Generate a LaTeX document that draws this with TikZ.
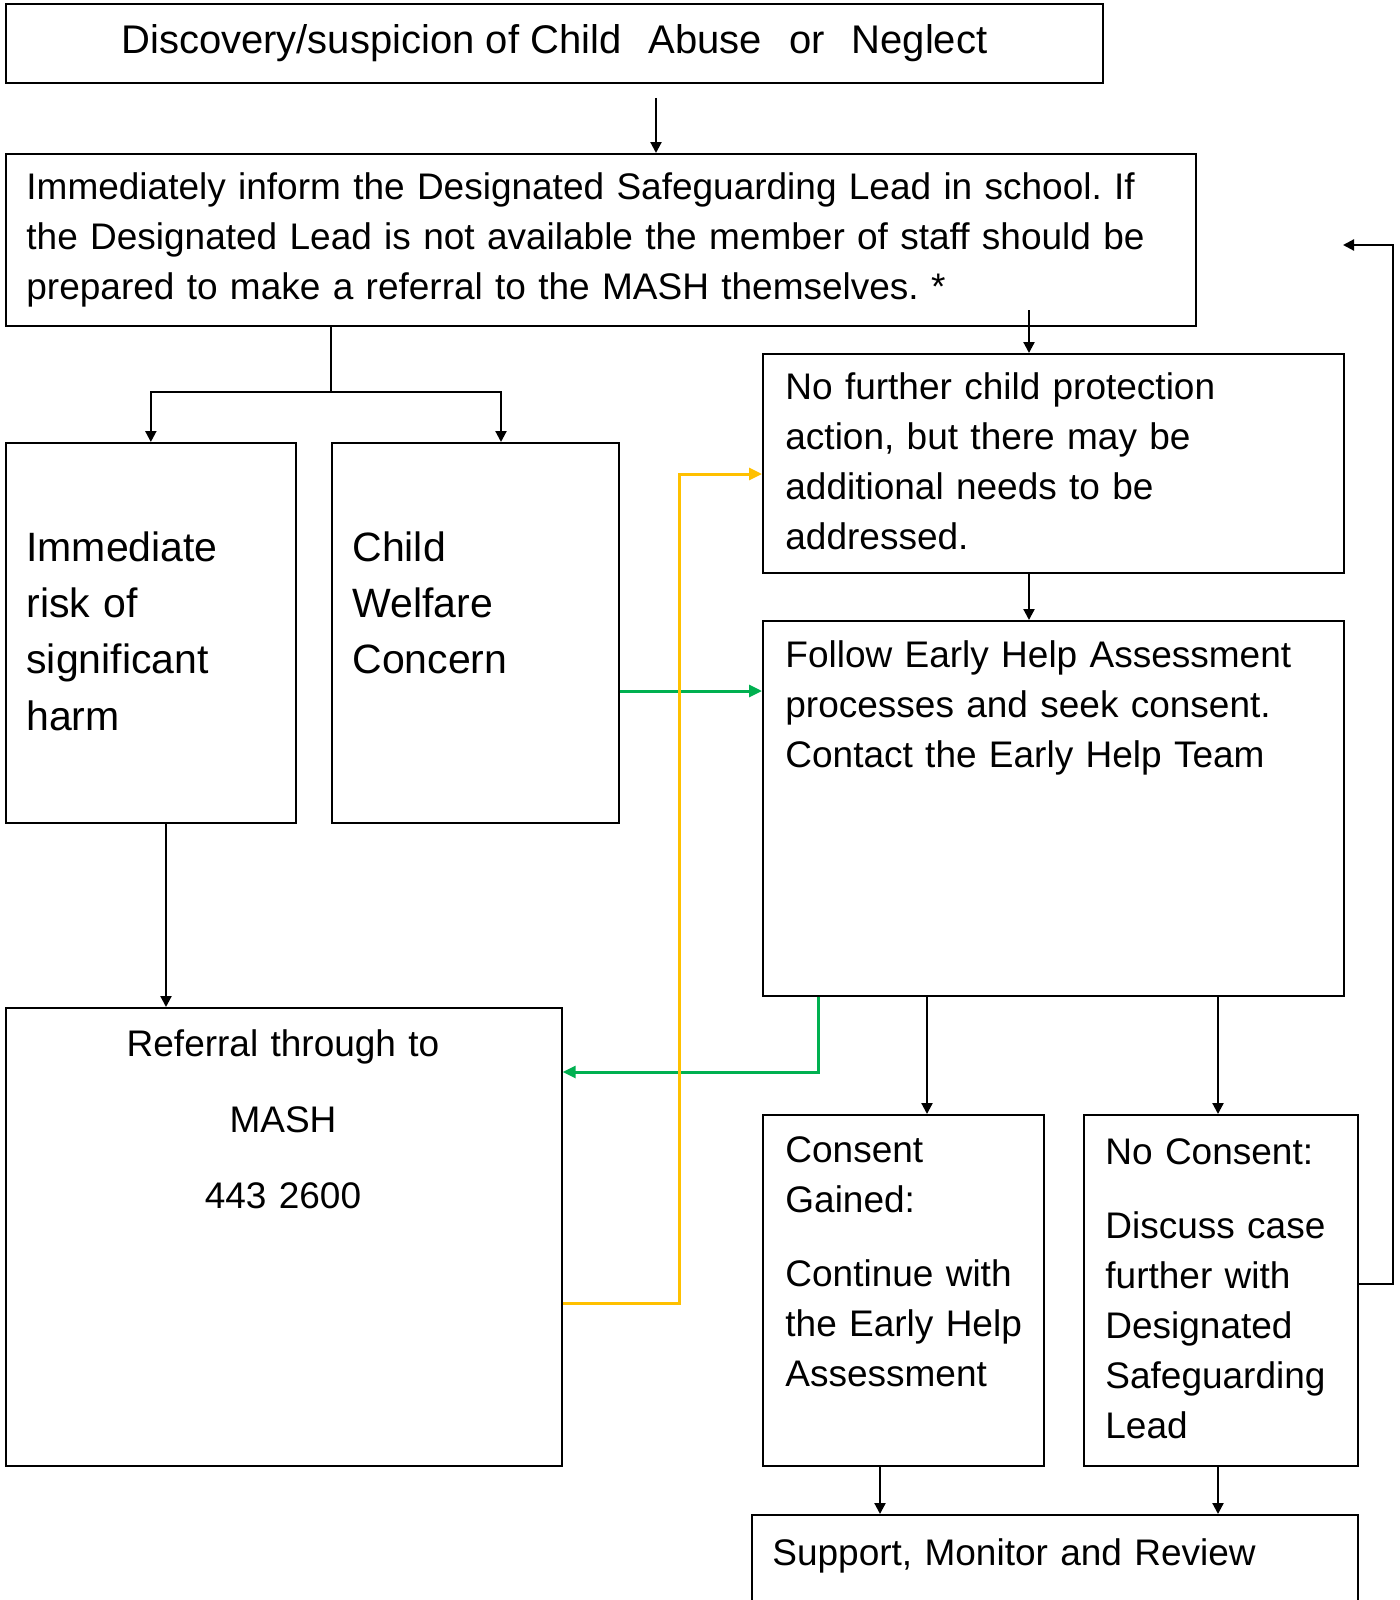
\documentclass[tikz,border=0pt]{standalone}
\usepackage{fontspec}
\setmainfont{Liberation Sans}
\usetikzlibrary{arrows.meta}
\frenchspacing
\definecolor{ehgreen}{RGB}{0,176,80}
\definecolor{ehyellow}{RGB}{255,192,0}
\newcommand{\headfont}{\fontsize{20}{24}\selectfont}
\newcommand{\flowfont}{\fontsize{18.5}{25}\selectfont}
\newcommand{\riskfont}{\fontsize{20.5}{28.2}\selectfont}
\tikzset{
  box/.style={draw, line width=0.85pt, anchor=north west, inner sep=0pt},
  txt/.style={anchor=base west, inner sep=0pt, align=left, text width=#1, font=\flowfont},
  txt/.default=280pt,
  arr/.style={line width=1.1pt, -{Triangle[length=5.5pt,width=5.5pt]}},
  plain/.style={line width=1.1pt},
  garr/.style={line width=1.5pt, draw=ehgreen, -{Triangle[length=6.5pt,width=6pt]}},
  yarr/.style={line width=1.5pt, draw=ehyellow, -{Triangle[length=6.5pt,width=6pt]}}
}

\begin{document}
\begin{tikzpicture}[x=0.5pt,y=-0.5pt]
\useasboundingbox (0,0) rectangle (1399,1600);

\node[box, minimum width=548.5pt, minimum height=39.5pt, font=\headfont] (top) at (5,3)
  {Discovery/suspicion of Child\hspace{0.4em} Abuse\hspace{0.4em} or\hspace{0.4em} Neglect};
\node[box, minimum width=595pt, minimum height=86pt] (inform) at (5,153) {};
\node[box, minimum width=145pt, minimum height=190pt] (risk) at (5,442) {};
\node[box, minimum width=143.5pt, minimum height=190pt] (welfare) at (331,442) {};
\node[box, minimum width=290.5pt, minimum height=109.5pt] (nofurther) at (762,353) {};
\node[box, minimum width=290.5pt, minimum height=187.5pt] (follow) at (762,620) {};
\node[box, minimum width=278pt, minimum height=229pt] (referral) at (5,1007) {};
\node[box, minimum width=140.5pt, minimum height=175.5pt] (consent) at (762,1114) {};
\node[box, minimum width=137pt, minimum height=175.5pt] (noconsent) at (1083,1114) {};
\node[box, minimum width=303pt, minimum height=60pt] (support) at (751,1514) {};

\node[txt=590pt] (informtext) at (26,199) {Immediately inform the Designated Safeguarding Lead in school. If\\
  the Designated Lead is not available the member of staff should be\\
  prepared to make a referral to the MASH themselves. *};
\node[txt=140pt, font=\riskfont] (risktext) at (26,561) {Immediate\\ risk of\\ significant\\ harm};
\node[txt=135pt, font=\riskfont] (welfaretext) at (352,561) {Child\\ Welfare\\ Concern};
\node[txt] (nofurthertext) at (785,399) {No further child protection\\ action, but there may be\\
  additional needs to be\\ addressed.};
\node[txt] (followtext) at (785,667) {Follow Early Help Assessment\\ processes and seek consent.\\
  Contact the Early Help Team};
\node[txt=270pt, align=center, anchor=base] (referraltext) at (283,1056)
  {Referral through to\\[13pt] MASH\\[13pt] 443 2600};
\node[txt=135pt] (consenttext) at (785,1162) {Consent\\ Gained:\\[12pt] Continue with\\
  the Early Help\\ Assessment};
\node[txt=135pt] (noconsenttext) at (1105,1164) {No Consent:\\[12pt] Discuss case\\
  further with\\ Designated\\ Safeguarding\\ Lead};
\node[txt] (supporttext) at (772,1565) {Support, Monitor and Review};

\coordinate (c1) at (656,98);
\coordinate (split) at (331,392);
\coordinate (c3) at (501,392);
\coordinate (c4) at (1029,310);
\coordinate (r1) at (166,900);
\coordinate (g1) at (700,691);
\coordinate (g2) at (818,1072);
\coordinate (y1) at (679,1303);
\coordinate (y2) at (679,474);
\coordinate (f1) at (927,1050);
\coordinate (f2) at (1218,1050);
\coordinate (s1) at (880,1490);
\coordinate (b1) at (1393,1284);
\coordinate (b2) at (1343,245);

\draw[arr] (c1) -- (c1 |- inform.north);
\draw[plain] (split |- inform.south) -- (split);
\draw[arr] (split) -| (risk.north);
\draw[arr] (split) -| (c3 |- welfare.north);
\draw[arr] (c4) -- (c4 |- nofurther.north);
\draw[arr] (c4 |- nofurther.south) -- (c4 |- follow.north);
\draw[arr] (risk.south -| r1) -- (referral.north -| r1);
\draw[garr] (welfare.east |- g1) -- (follow.west |- g1);
\draw[garr] (follow.south -| g2) -- (g2) -- (referral.east |- g2);
\draw[yarr] (referral.east |- y1) -- (y1) -- (y2) -- (nofurther.west |- y2);
\draw[arr] (follow.south -| f1) -- (consent.north -| f1);
\draw[arr] (follow.south -| f2) -- (noconsent.north -| f2);
\draw[arr] (consent.south -| s1) -- (support.north -| s1);
\draw[arr] (noconsent.south -| f2) -- (support.north -| f2);
\draw[arr] (noconsent.east |- b1) -- (b1) |- (b2);

\end{tikzpicture}
\end{document}
